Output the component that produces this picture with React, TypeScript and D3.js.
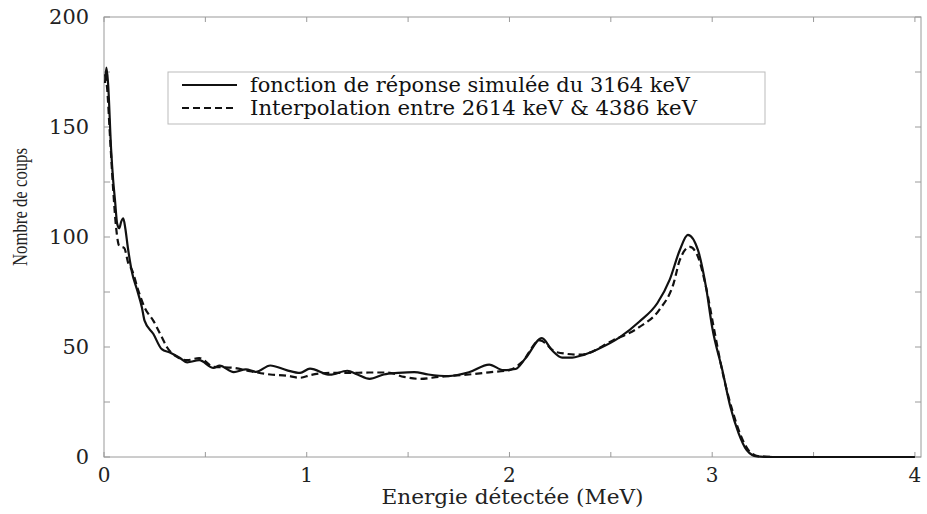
import React from "react";
import * as d3 from "d3";

// energie (MeV), nombre de coups
const simulee: [number, number][] = [
  [0.005, 170], [0.012, 177], [0.02, 170], [0.035, 140], [0.045, 126], [0.054, 117],
  [0.065, 106], [0.075, 104], [0.085, 107], [0.095, 108.5], [0.105, 104], [0.118, 95],
  [0.138, 84], [0.163, 76], [0.187, 68], [0.2, 62], [0.243, 56], [0.285, 49],
  [0.325, 47.5], [0.375, 45], [0.41, 43], [0.47, 44], [0.54, 40.5], [0.57, 41.5],
  [0.64, 38.6], [0.7, 39.8], [0.75, 38.7], [0.82, 41.6], [0.9, 39.5], [0.967, 38.2],
  [1.016, 40.2], [1.115, 37.4], [1.2, 39.2], [1.25, 37.5], [1.31, 35.5], [1.38, 37.5],
  [1.45, 38.2], [1.53, 38.6], [1.6, 37.5], [1.7, 36.8], [1.8, 38.5], [1.9, 42],
  [1.97, 39.5], [2.03, 40], [2.08, 45], [2.16, 54], [2.21, 48.5], [2.26, 45.2],
  [2.31, 45.2], [2.35, 46], [2.43, 48.8], [2.545, 54.5], [2.64, 61.5], [2.73, 70],
  [2.79, 80.5], [2.84, 94], [2.88, 101], [2.93, 94], [2.97, 77], [3.0, 59],
  [3.05, 39.5], [3.09, 22.7], [3.13, 10.9], [3.17, 3.2], [3.22, 0.3], [3.3, 0], [4.0, 0],
];

const interpolee: [number, number][] = [
  [0.005, 174], [0.015, 168], [0.03, 145], [0.045, 122], [0.06, 104], [0.075, 96],
  [0.1, 95], [0.12, 88], [0.138, 85], [0.168, 76], [0.2, 68], [0.243, 62],
  [0.285, 54.5], [0.31, 50], [0.36, 45.5], [0.41, 44], [0.47, 45], [0.54, 41],
  [0.64, 40.5], [0.72, 39], [0.82, 37.5], [0.9, 37], [0.967, 36], [1.02, 37.3],
  [1.115, 38.2], [1.2, 38.2], [1.31, 38.4], [1.4, 38.4], [1.48, 36.4], [1.56, 35.5],
  [1.65, 36.4], [1.8, 37.5], [1.9, 38.5], [2.0, 39.5], [2.06, 43], [2.15, 53],
  [2.23, 47.7], [2.35, 46.5], [2.51, 53], [2.64, 59], [2.74, 67], [2.81, 79],
  [2.84, 89.5], [2.89, 95.5], [2.93, 91], [2.97, 77], [3.01, 57.7], [3.05, 39],
  [3.1, 21], [3.14, 10], [3.18, 3], [3.23, 0.3], [3.3, 0], [4.0, 0],
];

const xTicks = [0, 1, 2, 3, 4];
const xMinor = [0.5, 1.5, 2.5, 3.5];
const yTicks = [0, 50, 100, 150, 200];
const yMinor = [25, 75, 125, 175];

const legendLabels = [
  "fonction de réponse simulée du 3164 keV",
  "Interpolation entre 2614 keV & 4386 keV",
];

export default function App() {
  const width = 927;
  const height = 514;

  const x = d3.scaleLinear().domain([0, 4.03]).range([104, 921]);
  const y = d3.scaleLinear().domain([0, 200]).range([457, 17]);

  const line = d3.line<[number, number]>()
    .x(d => x(d[0]))
    .y(d => y(d[1]))
    .curve(d3.curveMonotoneX);

  const frame = "#9a9a9a";
  const serif = "'DejaVu Serif', serif";

  return (
    <svg width={width} height={height}
      style={{ position: "absolute", left: 0, top: 0, background: "#fff" }}>
      {/* cadre */}
      <rect x={x(0)} y={y(200)} width={x(4.03) - x(0)} height={y(0) - y(200)}
        fill="none" stroke={frame} strokeWidth={1} />

      {/* graduations x */}
      {xTicks.concat(xMinor).map(t => (
        <g key={"x" + t}>
          <line x1={x(t)} x2={x(t)} y1={y(0)} y2={y(0) - 5} stroke={frame} />
          <line x1={x(t)} x2={x(t)} y1={y(200)} y2={y(200) + 5} stroke={frame} />
        </g>
      ))}
      {xTicks.map(t => (
        <text key={"xl" + t} x={x(t)} y={482} textAnchor="middle"
          fontFamily={serif} fontSize={20} fill="#222">{t}</text>
      ))}

      {/* graduations y */}
      {yTicks.concat(yMinor).map(t => (
        <g key={"y" + t}>
          <line x1={x(0)} x2={x(0) + 6} y1={y(t)} y2={y(t)} stroke={frame} />
          <line x1={x(4.03)} x2={x(4.03) - 6} y1={y(t)} y2={y(t)} stroke={frame} />
        </g>
      ))}
      {yTicks.map(t => (
        <text key={"yl" + t} x={89} y={y(t)} dy="0.36em" textAnchor="end"
          fontFamily={serif} fontSize={20} fill="#222"
          textLength={String(t).length * 13.3} lengthAdjust="spacingAndGlyphs">{t}</text>
      ))}

      {/* titres des axes */}
      <text x={(x(0) + x(4.03)) / 2} y={504} textAnchor="middle"
        fontFamily={serif} fontSize={20} fill="#222"
        textLength={262} lengthAdjust="spacingAndGlyphs">Energie détectée (MeV)</text>
      <text transform={`translate(27, 207) rotate(-90)`} textAnchor="middle"
        fontFamily="'Liberation Serif', serif" fontSize={21} fill="#222"
        textLength={118} lengthAdjust="spacingAndGlyphs">Nombre de coups</text>

      {/* courbes */}
      <path d={line(interpolee) ?? ""} fill="none" stroke="#111" strokeWidth={2.2}
        strokeDasharray="7,4" />
      <path d={line(simulee) ?? ""} fill="none" stroke="#111" strokeWidth={2.2} />

      {/* légende */}
      <rect x={168} y={72} width={597} height={52} fill="#fff" stroke="#bbb" strokeWidth={1} />
      <line x1={182} x2={237} y1={85} y2={85} stroke="#111" strokeWidth={1.8} />
      <line x1={182} x2={237} y1={108} y2={108} stroke="#111" strokeWidth={1.8}
        strokeDasharray="7,4" />
      {legendLabels.map((lab, i) => (
        <text key={lab} x={250} y={85 + i * 23} dy="0.35em" fontFamily={serif}
          fontSize={20} fill="#111" textLength={i === 0 ? 440 : 447}
          lengthAdjust="spacingAndGlyphs">{lab}</text>
      ))}
    </svg>
  );
}
